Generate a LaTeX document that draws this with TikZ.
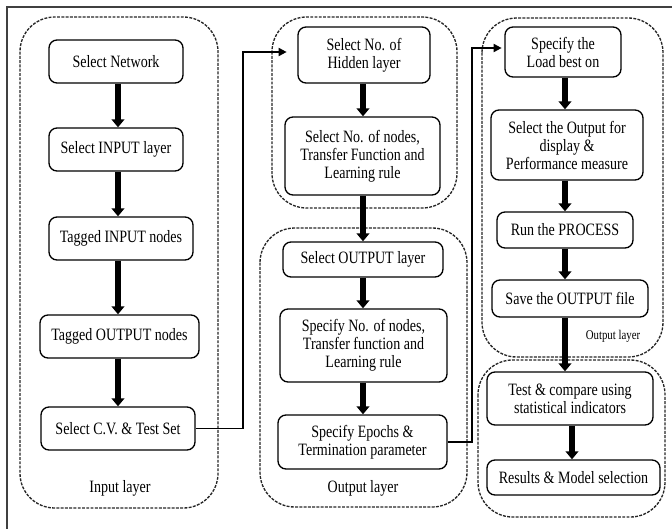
\documentclass[tikz,border=0pt]{standalone}
\usepackage{fontspec}
\setmainfont{Liberation Serif}[FakeStretch=0.81]
\usetikzlibrary{arrows.meta}
\begin{document}
\begin{tikzpicture}[x=0.75pt,y=-0.75pt,
  box/.style={draw=black,line width=1pt,rounded corners=6pt,align=center,inner sep=1pt,
    font=\fontsize{13}{13.5}\selectfont},
  sz/.style 2 args={minimum width=#1*0.75pt,minimum height=#2*0.75pt},
  grp/.style={draw=black!85,line width=1pt,dash pattern=on 2.2pt off 1pt,rounded corners=26pt},
  fat/.style={line width=4pt,-{Triangle[width=9.5pt,length=6pt]}},
  conn/.style={line width=1.4pt,-{Triangle[width=6pt,length=6pt]}},
  lbl/.style={font=\fontsize{13}{13.5}\selectfont}]
\useasboundingbox (0,0) rectangle (672,529);
\draw[black!75,line width=1.2pt] (7,529) -- (7,7) -- (672,7);
% groups
\draw[grp] (20,17) rectangle (218,508);
\draw[grp] (272,17) rectangle (457,208);
\draw[grp] (260,228) rectangle (467,507);
\draw[grp] (482,18) rectangle (663,357);
\draw[grp] (478,360) rectangle (665,517);
% group 1
\node[box,sz={134}{43}] (net) at (116,61.5) {Select Network};
\node[box,sz={134}{43}] (inl) at (116,149.5) {Select INPUT layer};
\node[box,sz={144}{43}] (tin) at (121,238.5) {Tagged INPUT nodes};
\node[box,sz={159}{43}] (tout) at (119.5,336.5) {Tagged OUTPUT nodes};
\node[box,sz={154}{43}] (cv) at (118,428.5) {Select C.V. \& Test Set};
\node[lbl] (l1) at (120,488) {Input layer};
% group 2
\node[box,sz={132}{56}] (hid) at (364,55) {Select No. of\\Hidden layer};
\node[box,sz={155}{78}] (hn) at (362.5,156) {Select No. of nodes,\\Transfer Function and\\Learning rule};
% group 3
\node[box,sz={160}{35}] (outl) at (363,259.5) {Select OUTPUT layer};
\node[box,sz={167}{73}] (on) at (363.5,345.5) {Specify No. of nodes,\\Transfer function and\\Learning rule};
\node[box,sz={169}{54}] (ep) at (362.5,442) {Specify Epochs \&\\Termination parameter};
\node[lbl] (l3) at (363,488) {Output layer};
% group 4
\node[box,sz={116}{50}] (load) at (563,52) {Specify the\\Load best on};
\node[box,sz={152}{70}] (disp) at (567,145) {Select the Output for\\display \&\\Performance measure};
\node[box,sz={136}{36}] (run) at (565,230) {Run the PROCESS};
\node[box,sz={156}{37}] (save) at (570,298.5) {Save the OUTPUT file};
\node[font=\fontsize{10}{11}\selectfont] (l4) at (613,336) {Output layer};
% group 5
\node[box,sz={166}{53}] (test) at (570,398.5) {Test \& compare using\\statistical indicators};
\node[box,sz={173}{35}] (res) at (573.5,477.5) {Results \& Model selection};
% columns
\coordinate (c1) at (118,0);
\coordinate (c2) at (363,0);
\coordinate (c4) at (565,0);
\coordinate (c5) at (572,0);
% thick arrows
\draw[fat] (net.south -| c1) -- (inl.north -| c1);
\draw[fat] (inl.south -| c1) -- (tin.north -| c1);
\draw[fat] (tin.south -| c1) -- (tout.north -| c1);
\draw[fat] (tout.south -| c1) -- (cv.north -| c1);
\draw[fat] (hid.south -| c2) -- (hn.north -| c2);
\draw[fat] (hn.south -| c2) -- (outl.north -| c2);
\draw[fat] (outl.south -| c2) -- (on.north -| c2);
\draw[fat] (on.south -| c2) -- (ep.north -| c2);
\draw[fat] (load.south -| c4) -- (disp.north -| c4);
\draw[fat] (disp.south -| c4) -- (run.north -| c4);
\draw[fat] (run.south -| c4) -- (save.north -| c4);
\draw[fat] (save.south -| c4) -- (test.north -| c4);
\draw[fat] (test.south -| c5) -- (res.north -| c5);
% connectors
\coordinate (k1) at (243,52);
\coordinate (k2) at (472,48);
\draw[conn,shorten >=8pt] (cv.east) -| (k1) -- (hid.west |- k1);
\draw[conn,shorten >=2pt] (ep.east) -| (k2) -- (load.west |- k2);
\end{tikzpicture}
\end{document}
